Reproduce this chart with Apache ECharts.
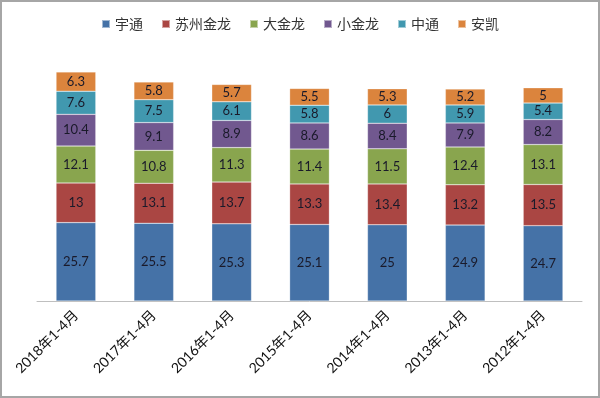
<!DOCTYPE html>
<html>
<head>
<meta charset="utf-8">
<script src="https://cdn.jsdelivr.net/npm/echarts@6/dist/echarts.min.js"></script>
<style>
	html, body { margin: 0; padding: 0; background: #fff; }
	#chart { width: 596px; height: 394px; border: 2px solid #a6a6a6; }
</style>
</head>
<body>
<div id="chart"></div>
<script>
	// 分类（年份）
	var categories = [ '2018年1-4月', '2017年1-4月', '2016年1-4月', '2015年1-4月',
			'2014年1-4月', '2013年1-4月', '2012年1-4月' ];
	// 各品牌份额
	var yutong = [ 25.7, 25.5, 25.3, 25.1, 25, 24.9, 24.7 ];
	var suzhouJinlong = [ 13, 13.1, 13.7, 13.3, 13.4, 13.2, 13.5 ];
	var daJinlong = [ 12.1, 10.8, 11.3, 11.4, 11.5, 12.4, 13.1 ];
	var xiaoJinlong = [ 10.4, 9.1, 8.9, 8.6, 8.4, 7.9, 8.2 ];
	var zhongtong = [ 7.6, 7.5, 6.1, 5.8, 6, 5.9, 5.4 ];
	var ankai = [ 6.3, 5.8, 5.7, 5.5, 5.3, 5.2, 5 ];

	var names = [ '宇通', '苏州金龙', '大金龙', '小金龙', '中通', '安凯' ];
	var values = [ yutong, suzhouJinlong, daJinlong, xiaoJinlong, zhongtong, ankai ];
	var colors = [ '#4572A7', '#AA4643', '#89A54E', '#71588F', '#4198AF', '#DB843D' ];
	var font = 'Lato, "Noto Sans CJK SC", sans-serif';

	var myChart = echarts.init(document.getElementById('chart'));

	var series = names.map(function(name, i) {
		return {
			name : name,
			type : 'bar',
			stack : 'total',
			barWidth : '51%',
			color : colors[i],
			itemStyle : {
				borderColor : 'rgba(255,255,255,0.5)',
				borderWidth : 0.5
			},
			label : {
				show : true,
				position : 'inside',
				color : '#1a1a2a',
				fontSize : 13,
				fontFamily : font
			},
			emphasis : { disabled : true },
			data : values[i]
		};
	});

	var option = {
		animation : false,
		legend : {
			top : 10,
			left : 'center',
			icon : 'rect',
			itemWidth : 8,
			itemHeight : 8,
			itemGap : 18,
			textStyle : {
				color : '#333',
				fontSize : 14,
				fontFamily : font
			},
			data : names
		},
		grid : {
			left : 35,
			right : 16,
			top : 55,
			bottom : 95
		},
		xAxis : {
			type : 'category',
			data : categories,
			axisTick : { show : false },
			axisLine : {
				lineStyle : { color : '#bfbfbf', width : 1 }
			},
			axisLabel : {
				rotate : 45,
				interval : 0,
				margin : 12,
				color : '#111',
				fontSize : 14,
				fontFamily : font
			}
		},
		yAxis : {
			type : 'value',
			min : 0,
			max : 80,
			show : false
		},
		series : series
	};

	myChart.setOption(option);
</script>
</body>
</html>
